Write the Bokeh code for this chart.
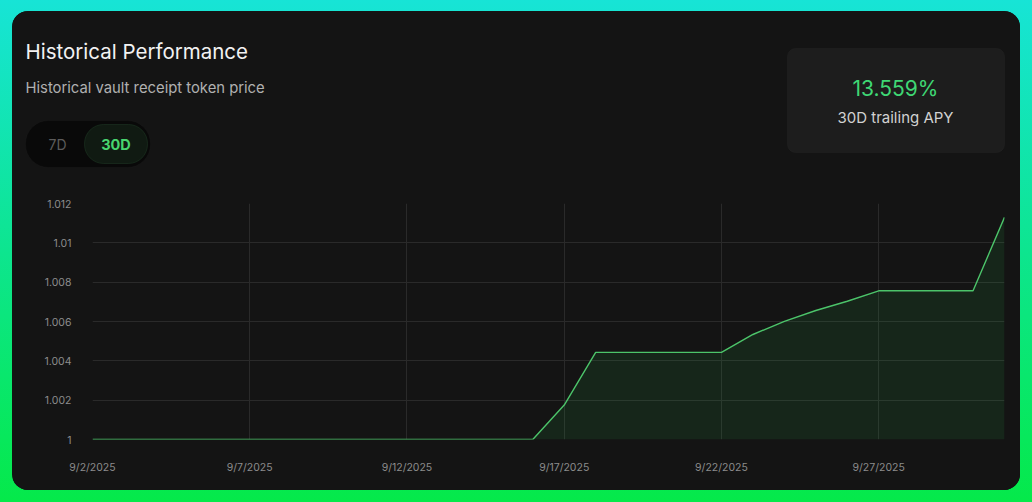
from datetime import datetime, timedelta
from bokeh.plotting import figure
from bokeh.models import (Range1d, FixedTicker, CustomJSTickFormatter, BoxAnnotation,
                          ColumnDataSource, InlineStyleSheet, GlobalInlineStyleSheet)
from bokeh.core.properties import value
from bokeh.embed import file_html
from bokeh.resources import INLINE

# ---- data ----
start = datetime(2025, 9, 2)
dates = [start + timedelta(days=i) for i in range(30)]
prices = [1.0, 1.0, 1.0, 1.0, 1.0, 1.0, 1.0, 1.0, 1.0, 1.0, 1.0, 1.0, 1.0, 1.0, 1.0,
          1.00175,
          1.00443, 1.00443, 1.00443, 1.00443, 1.00443,
          1.00534, 1.00601, 1.00656, 1.00703,
          1.00756, 1.00756, 1.00756, 1.00756,
          1.0113]
x_tick_dates = [datetime(2025, 9, d) for d in (2, 7, 12, 17, 22, 27)]
y_ticks = [1.0, 1.002, 1.004, 1.006, 1.008, 1.01, 1.012]
title_text = "Historical Performance"
subtitle_text = "Historical vault receipt token price"
apy_text = "13.559%"
apy_caption = "30D trailing APY"
range_options = ["7D", "30D"]

FONT = "Inter"
CARD = "#141414"
W = 1008
HEAD_H = 174

def ms(d):
    return (d - datetime(1970, 1, 1)).total_seconds() * 1000.0

# ---------------- header (title, subtitle, toggle, APY card) ----------------
h = figure(width=W, height=HEAD_H, output_backend="svg", toolbar_location=None,
           x_range=Range1d(0, W), y_range=Range1d(HEAD_H, 0),
           x_axis_type=None, y_axis_type=None, min_border=0,
           background_fill_color=CARD, border_fill_color=CARD, outline_line_color=None,
           margin=(11, 0, 0, 12),
           stylesheets=[InlineStyleSheet(css=":host { border-radius: 16px 16px 0 0; overflow: hidden; background: #141414; }"),
                        GlobalInlineStyleSheet(css="html, body { background: linear-gradient(180deg, #17e4d6 0%, #0de58f 50%, #05e94a 100%); min-height: 100%; }")])
h.grid.visible = False

def txt(x, y, t, size, color, align="left", style="normal"):
    r = h.text(x=[x], y=[y], text=[t], text_font=value(FONT), text_font_size=size,
               text_color=color, text_align=align, text_baseline="middle", text_font_style=style)
    r.level = "overlay"

txt(13, 40, title_text, "20.5px", "#f2f2f2")
txt(13, 76, subtitle_text, "14.8px", "#b0b0b0")

h.add_layout(BoxAnnotation(left=13, right=138, top=109, bottom=156,
                           fill_color="#090909", fill_alpha=1, line_color="#222222", line_width=1,
                           border_radius=23))
h.add_layout(BoxAnnotation(left=72, right=135, top=113, bottom=152,
                           fill_color="#101a12", fill_alpha=1, line_color="#2e5a37", line_width=1,
                           border_radius=19))
txt(45, 132.5, range_options[0], "14px", "#5c5c5c", align="center")
txt(103.5, 132.5, range_options[1], "14.5px", "#48d46e", align="center", style="bold")

h.add_layout(BoxAnnotation(left=775, right=992, top=37, bottom=141,
                           fill_color="#1d1d1d", fill_alpha=1, line_color="#2a2a2a", line_width=1,
                           border_radius=8))
txt(883, 77, apy_text, "21px", "#3fd774", align="center")
txt(883, 106, apy_caption, "15px", "#d2d2d2", align="center")

# ---------------- chart ----------------
src = ColumnDataSource(dict(x=[ms(d) for d in dates], y=prices, base=[y_ticks[0]] * len(prices)))

p = figure(width=W, height=479 - 170, output_backend="svg", toolbar_location=None,
           x_range=Range1d(ms(dates[0]), ms(dates[-1])), y_range=Range1d(y_ticks[0], y_ticks[-1]),
           min_border_left=80, min_border_right=16, min_border_top=22, min_border_bottom=51,
           background_fill_color=CARD, border_fill_color=CARD, outline_line_color=None,
           margin=(-4, 0, 0, 12),
           stylesheets=[InlineStyleSheet(css=":host { border-radius: 0 0 16px 16px; overflow: hidden; background: #141414; }")])

p.xaxis.ticker = FixedTicker(ticks=[ms(d) for d in x_tick_dates])
p.xaxis.formatter = CustomJSTickFormatter(code="""
const d = new Date(tick);
return (d.getUTCMonth()+1) + '/' + d.getUTCDate() + '/' + d.getUTCFullYear();
""")
p.yaxis.ticker = FixedTicker(ticks=y_ticks)
p.yaxis.formatter = CustomJSTickFormatter(code="return String(+tick.toFixed(3));")

for ax in (p.xaxis, p.yaxis):
    ax.axis_line_color = None
    ax.major_tick_line_color = None
    ax.minor_tick_line_color = None
    ax.major_label_text_color = "#8c8c8c"
    ax.major_label_text_font = FONT
    ax.major_label_text_font_size = "10.5px"
p.xaxis.major_label_standoff = 15
p.yaxis.major_label_standoff = 15

p.grid.grid_line_color = "#2a2a2a"
p.grid.grid_line_width = 1

p.varea(x="x", y1="base", y2="y", source=src, fill_color="#2ecc5a", fill_alpha=0.10)
p.line(x="x", y="y", source=src, line_color="#4cc46a", line_width=1.4)

open("out.html", "w").write(file_html([h, p], INLINE))
